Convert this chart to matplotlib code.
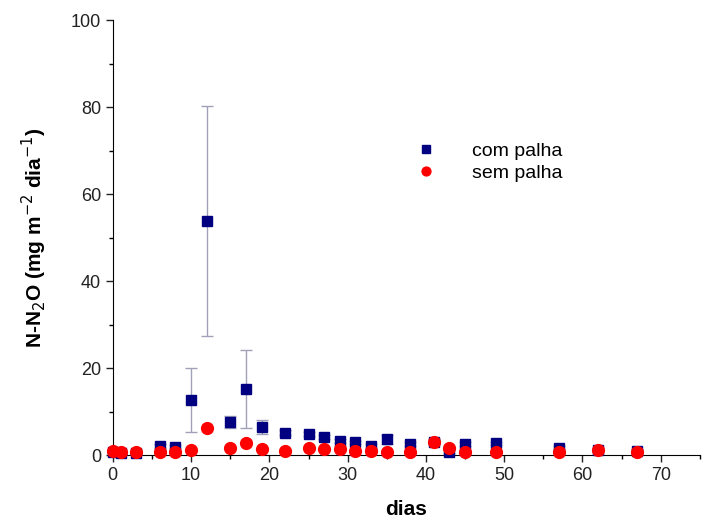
import matplotlib
matplotlib.use('agg')
import matplotlib.pyplot as plt
from matplotlib.ticker import MultipleLocator

plt.rcParams['font.family'] = ['Liberation Sans', 'DejaVu Sans']

dias = [0, 1, 3, 6, 8, 10, 12, 15, 17, 19, 22, 25, 27, 29, 31, 33, 35, 38, 41, 43, 45, 49, 57, 62, 67]
com_palha = [0.8, 0.5, 0.5, 2.1, 1.9, 12.7, 53.8, 7.5, 15.2, 6.5, 5.1, 4.8, 4.1, 3.2, 2.9, 2.1,
             3.6, 2.5, 3.1, 0.8, 2.5, 2.7, 1.7, 1.2, 1.0]
com_palha_err = [0.3, 0.2, 0.2, 0.5, 0.4, 7.3, 26.5, 1.4, 9.0, 1.6, 0.6, 0.5, 0.5, 0.5, 0.4, 0.4,
                 1.0, 0.4, 0.6, 0.3, 0.4, 0.4, 0.3, 0.3, 0.3]
sem_palha = [1.0, 0.8, 0.8, 0.8, 0.8, 1.2, 6.2, 1.5, 2.8, 1.4, 1.0, 1.5, 1.4, 1.4, 0.9, 0.9,
             0.8, 0.8, 2.9, 1.7, 0.8, 0.8, 0.8, 1.2, 0.6]
sem_palha_err = [0.2, 0.2, 0.2, 0.2, 0.2, 0.3, 0.8, 0.3, 0.6, 0.3, 0.2, 0.3, 0.3, 0.3, 0.2, 0.2,
                 0.2, 0.2, 0.5, 0.3, 0.2, 0.2, 0.2, 0.3, 0.2]

fig = plt.figure(figsize=(7.02, 5.2), dpi=100)
ax = fig.add_axes([0.1607, 0.125, 0.8363, 0.8365])

ax.errorbar(dias, com_palha, yerr=com_palha_err, fmt='s', color='#000080', ms=7,
            ecolor='#a0a0b8', elinewidth=1, capsize=4, capthick=1,
            label='com palha', clip_on=False, zorder=3)
ax.errorbar(dias, sem_palha, yerr=sem_palha_err, fmt='o', color='#ff0000', ms=8.5,
            ecolor='#ffb0b0', elinewidth=1, capsize=3, capthick=1,
            label='sem palha', clip_on=False, zorder=4)

ax.set_xlim(0, 75)
ax.set_ylim(0, 100)
ax.xaxis.set_major_locator(MultipleLocator(10))
ax.xaxis.set_minor_locator(MultipleLocator(5))
ax.yaxis.set_major_locator(MultipleLocator(20))
ax.yaxis.set_minor_locator(MultipleLocator(10))
ax.spines['top'].set_visible(False)
ax.spines['right'].set_visible(False)
ax.tick_params(which='major', direction='out', length=5, width=1, labelsize=13, colors='#222222')
ax.tick_params(which='minor', direction='out', length=3, width=1)

ax.set_xlabel('dias', fontsize=15, fontweight='bold', labelpad=12)
ax.set_ylabel('N-N$_2$O (mg m$^{-2}$ dia$^{-1}$)', fontsize=15, fontweight='bold', labelpad=16)

handles, labels = ax.get_legend_handles_labels()
handles = [h[0] for h in handles]
ax.legend(handles, labels, loc='upper left', bbox_to_anchor=(0.47, 0.76), frameon=False,
          fontsize=14, handletextpad=1.4, markerscale=0.75, labelspacing=0.25)

fig.savefig('out.png')
